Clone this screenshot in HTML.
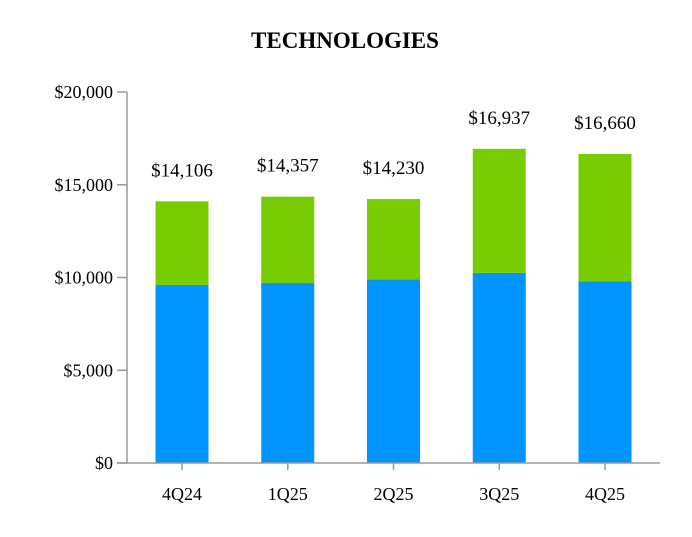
<!DOCTYPE html>
<html><head><meta charset="utf-8"><style>
body{margin:0;background:#fff;}
svg text{font-family:"Liberation Serif",serif;fill:#000;}
</style></head><body>
<svg width="692" height="532" id="chart">
<text x="345" y="48" text-anchor="middle" font-size="23" font-weight="bold">TECHNOLOGIES</text>
</svg>
<script>
const categories=["4Q24","1Q25","2Q25","3Q25","4Q25"];
const blueValues=[9600,9700,9900,10250,9800];
const totalValues=[14106,14357,14230,16937,16660];
const totalLabels=["$14,106","$14,357","$14,230","$16,937","$16,660"];
const yTicks=[0,5000,10000,15000,20000];
const yTickLabels=["$0","$5,000","$10,000","$15,000","$20,000"];
const svg=document.getElementById('chart');
const NS='http://www.w3.org/2000/svg';
const y0=463,y1=92,ymax=20000;
const yScale=v=>y0-(v/ymax)*(y0-y1);
const xScale=i=>182+i*105.75;
const bw=53;
function mk(tag,attrs){const e=document.createElementNS(NS,tag);for(const k in attrs)e.setAttribute(k,attrs[k]);svg.appendChild(e);return e;}
categories.forEach((c,i)=>{
  const cx=xScale(i);
  const b=mk('rect',{x:cx-bw/2,y:yScale(blueValues[i]),width:bw,height:y0-yScale(blueValues[i]),fill:'#0094FF'});
  
  
  const g=mk('rect',{x:cx-bw/2,y:yScale(totalValues[i]),width:bw,height:yScale(blueValues[i])-yScale(totalValues[i]),fill:'#77CC00'});
  
  
  const t=mk('text',{x:cx,y:yScale(totalValues[i])-25,'text-anchor':'middle','font-size':'19'});
  t.textContent=totalLabels[i];
  
  
  const tk=mk('line',{x1:cx,x2:cx,y1:y0,y2:y0+7,stroke:'#999','stroke-width':1.5});
  
  
  const xl=mk('text',{x:cx,y:500,'text-anchor':'middle','font-size':'18'});
  xl.textContent=c;
  
  
});
yTicks.forEach((v,i)=>{
  const y=yScale(v);
  const l=mk('line',{x1:117,x2:127,y1:y,y2:y,stroke:'#999','stroke-width':1.5});
  
  
  const t=mk('text',{x:113,y:y+6,'text-anchor':'end','font-size':'18'});
  t.textContent=yTickLabels[i];
  
  
});
const ya=mk('line',{x1:127,x2:127,y1:y1,y2:y0,stroke:'#999','stroke-width':1.5});


const xa=mk('line',{x1:117,x2:660,y1:y0,y2:y0,stroke:'#999','stroke-width':1.5});


</script>
</body></html>
